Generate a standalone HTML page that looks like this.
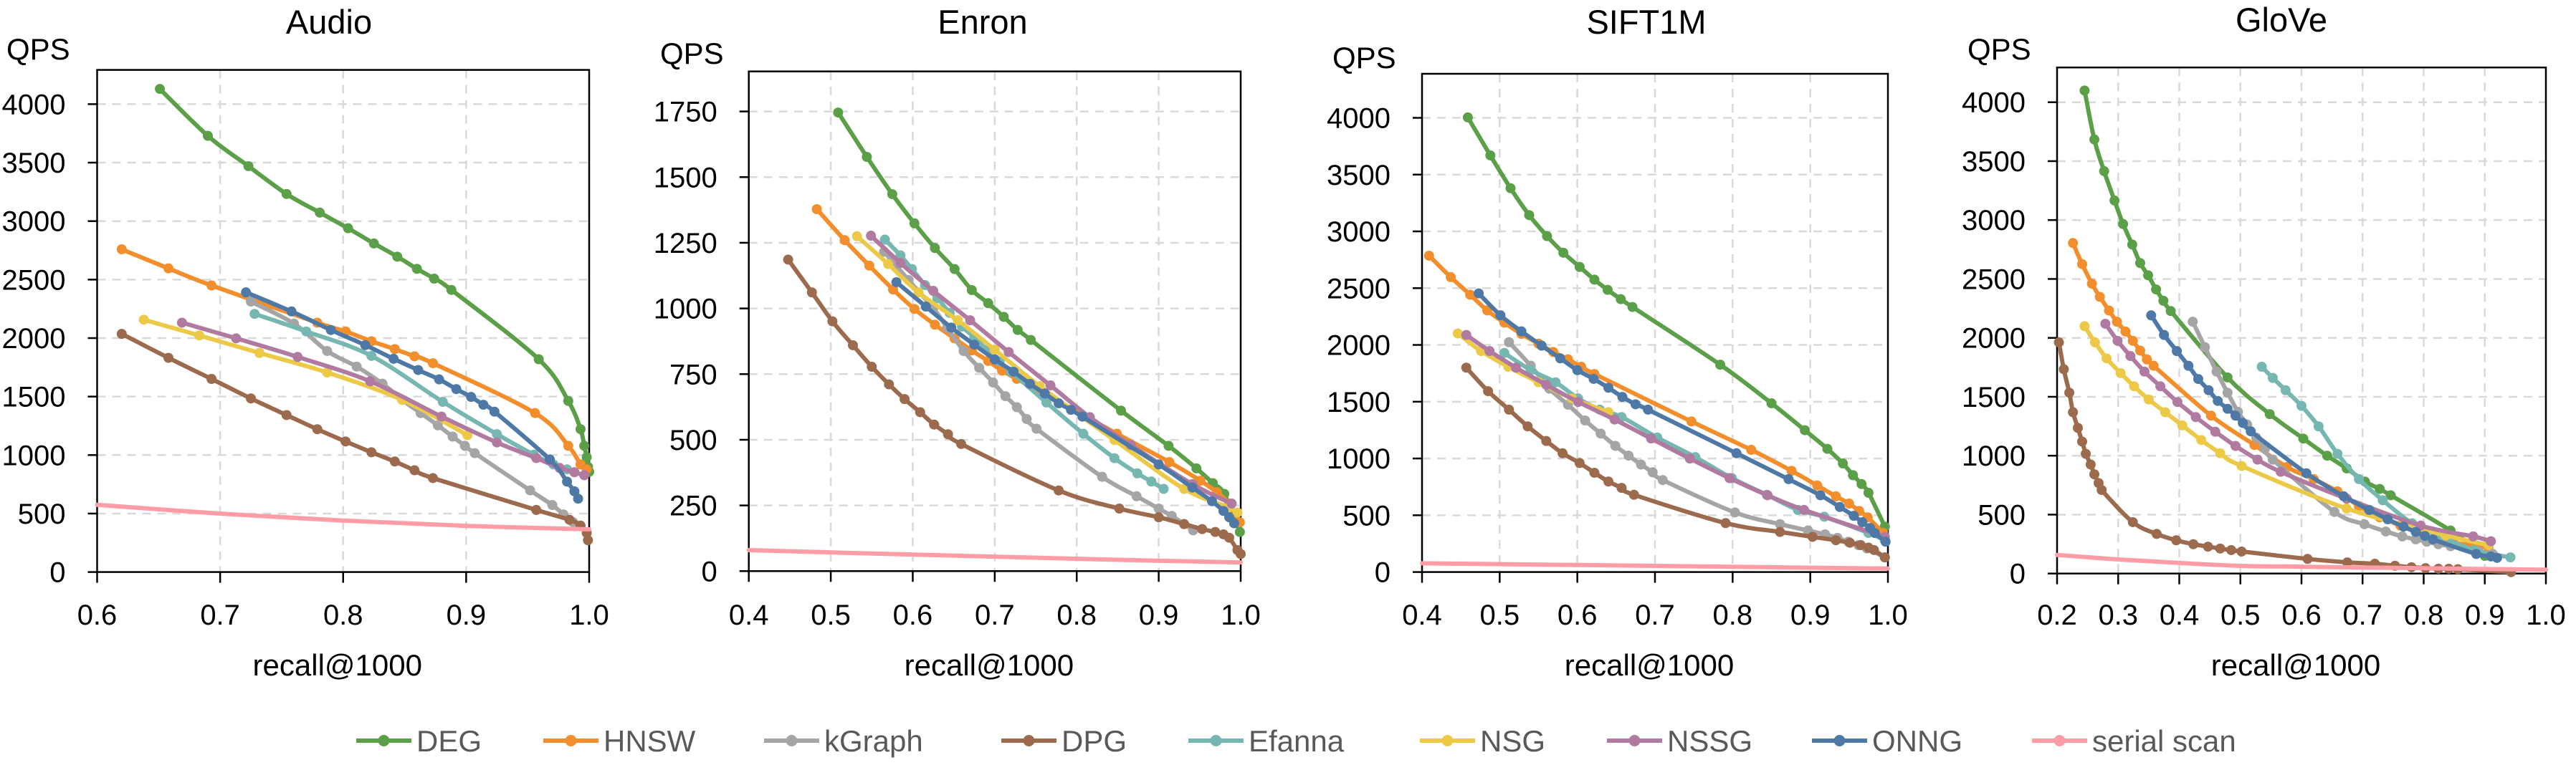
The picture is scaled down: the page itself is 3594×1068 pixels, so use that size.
<!DOCTYPE html>
<html><head><meta charset="utf-8"><style>
html,body{margin:0;padding:0;background:#fff;}
svg{display:block;font-family:"Liberation Sans",sans-serif;}
</style></head><body>
<svg id="chart" width="3594" height="1068" viewBox="0 0 3594 1068" xmlns="http://www.w3.org/2000/svg"></svg>
<script>
const seriesNames = ["DEG","HNSW","kGraph","DPG","Efanna","NSG","NSSG","ONNG","serial scan"];
const seriesColors = ["#5b9f48","#f28e2b","#a5a5a5","#9c6b4e","#76b7b2","#edc948","#b07aa1","#4e79a7","#ff9da7"];

// Audio
const audioDEG = [[0.651,4130],[0.690,3729],[0.723,3470],[0.754,3232],[0.781,3073],[0.804,2939],[0.825,2809],[0.844,2696],[0.860,2592],[0.874,2508],[0.888,2412],[0.959,1819],[0.983,1463],[0.993,1221],[0.996,1079],[0.998,982],[0.999,900],[1.0,857]];
const audioHNSW = [[0.620,2759],[0.658,2596],[0.693,2450],[0.779,2132],[0.802,2057],[0.823,1973],[0.842,1906],[0.858,1844],[0.873,1785],[0.956,1359],[0.983,1079],[0.993,920],[0.998,878]];
const audioKGraph = [[0.725,2312],[0.760,2124],[0.787,1890],[0.811,1756],[0.832,1610],[0.848,1472],[0.863,1359],[0.877,1254],[0.889,1158],[0.899,1079],[0.907,1016],[0.952,698],[0.970,573],[0.979,493],[0.987,426]];
const audioDPG = [[0.620,2036],[0.658,1831],[0.693,1651],[0.725,1484],[0.754,1342],[0.779,1221],[0.802,1116],[0.823,1024],[0.842,945],[0.858,870],[0.873,803],[0.957,531],[0.984,447],[0.993,397],[0.998,334],[0.999,272]];
const audioEfanna = [[0.728,2207],[0.770,2057],[0.823,1848],[0.881,1455],[0.925,1179],[0.955,1003],[0.971,920],[0.982,878]];
const audioNSG = [[0.638,2157],[0.683,2023],[0.732,1873],[0.787,1706],[0.848,1472],[0.901,1171]];
const audioNSSG = [[0.669,2132],[0.713,1998],[0.763,1839],[0.822,1630],[0.880,1329],[0.925,1108],[0.957,974],[0.976,890],[0.988,853],[0.996,828]];
const audioONNG = [[0.721,2391],[0.758,2228],[0.790,2069],[0.818,1940],[0.841,1823],[0.861,1727],[0.878,1647],[0.892,1564],[0.904,1497],[0.914,1430],[0.923,1371],[0.968,962],[0.982,773],[0.988,690],[0.991,627]];
const audioSerial = [[0.6,575],[0.7,500],[0.8,440],[0.9,395],[1.0,365]];

// Enron
const enronDEG = [[0.509,1746],[0.544,1577],[0.575,1435],[0.602,1324],[0.627,1230],[0.651,1150],[0.672,1070],[0.692,1020],[0.711,968],[0.728,918],[0.744,880],[0.854,611],[0.912,477],[0.946,391],[0.966,335],[0.980,294],[0.999,149]];
const enronHNSW = [[0.483,1378],[0.517,1260],[0.547,1163],[0.576,1072],[0.602,998],[0.627,938],[0.651,886],[0.672,840],[0.692,800],[0.709,763],[0.727,732],[0.849,523],[0.913,415],[0.951,344],[0.971,300],[0.986,257],[0.999,186]];
const enronKGraph = [[0.565,1216],[0.595,1108],[0.625,1001],[0.642,927],[0.662,838],[0.681,774],[0.698,718],[0.713,666],[0.727,624],[0.739,579],[0.751,542],[0.831,359],[0.873,285],[0.900,238],[0.916,210],[0.931,179],[0.942,155]];
const enronDPG = [[0.448,1186],[0.477,1061],[0.502,951],[0.527,860],[0.550,778],[0.571,711],[0.590,655],[0.609,605],[0.626,558],[0.643,521],[0.659,484],[0.778,307],[0.852,238],[0.900,205],[0.931,179],[0.953,160],[0.969,149],[0.979,140],[0.986,127],[0.996,80],[1.0,65]];
const enronEfanna = [[0.566,1262],[0.585,1202],[0.599,1150],[0.615,1089],[0.630,1039],[0.645,983],[0.660,931],[0.675,890],[0.690,843],[0.706,797],[0.720,759],[0.763,642],[0.808,523],[0.846,430],[0.874,372],[0.891,341],[0.906,313]];
const enronNSG = [[0.532,1275],[0.570,1169],[0.607,1061],[0.655,955],[0.700,843],[0.755,704],[0.846,499],[0.931,313],[0.986,242],[0.996,223]];
const enronNSSG = [[0.549,1277],[0.585,1173],[0.625,1067],[0.670,955],[0.717,834],[0.768,707],[0.816,586],[0.866,480],[0.941,331],[0.989,257]];
const enronONNG = [[0.580,1100],[0.616,1007],[0.647,927],[0.675,862],[0.700,806],[0.723,759],[0.743,713],[0.761,676],[0.778,639],[0.793,614],[0.807,588],[0.900,406],[0.941,318],[0.965,266],[0.979,229],[0.986,205],[0.992,182]];
const enronSerial = [[0.4,80],[0.55,67],[0.7,55],[0.85,43],[1.0,33]];

// SIFT1M
const siftDEG = [[0.459,4004],[0.488,3669],[0.514,3380],[0.538,3143],[0.561,2958],[0.582,2812],[0.603,2687],[0.622,2575],[0.639,2485],[0.656,2403],[0.671,2334],[0.784,1826],[0.850,1486],[0.893,1249],[0.922,1085],[0.942,956],[0.955,853],[0.966,775],[0.975,698],[0.996,400]];
const siftHNSW = [[0.409,2786],[0.437,2597],[0.462,2442],[0.484,2304],[0.506,2196],[0.528,2097],[0.550,2011],[0.569,1938],[0.588,1873],[0.605,1808],[0.622,1744],[0.747,1326],[0.824,1076],[0.876,891],[0.909,762],[0.933,667],[0.950,603],[0.963,538],[0.974,482],[0.994,344]];
const siftKGraph = [[0.512,2024],[0.540,1817],[0.564,1615],[0.588,1473],[0.610,1335],[0.630,1219],[0.649,1111],[0.666,1025],[0.682,947],[0.697,878],[0.710,810],[0.803,525],[0.861,422],[0.897,366],[0.919,332],[0.935,301],[0.949,267],[0.962,237],[0.973,207],[0.996,129]];
const siftDPG = [[0.457,1800],[0.485,1593],[0.512,1430],[0.536,1283],[0.560,1154],[0.581,1046],[0.603,960],[0.622,874],[0.640,797],[0.657,741],[0.673,680],[0.791,431],[0.861,353],[0.903,310],[0.933,280],[0.951,258],[0.965,237],[0.975,215],[0.982,194],[0.996,129]];
const siftEfanna = [[0.506,1929],[0.540,1778],[0.572,1671],[0.601,1529],[0.629,1430],[0.657,1365],[0.703,1184],[0.752,1012],[0.799,827],[0.844,680],[0.884,547],[0.918,487],[0.975,344],[0.996,280]];
const siftNSG = [[0.446,2101],[0.476,1946],[0.511,1808],[0.550,1671],[0.593,1529],[0.640,1408]];
const siftNSSG = [[0.457,2088],[0.487,1946],[0.521,1800],[0.560,1649],[0.601,1498],[0.648,1343],[0.695,1176],[0.745,999],[0.796,827],[0.845,676],[0.892,547],[0.996,310]];
const siftONNG = [[0.473,2454],[0.501,2261],[0.528,2119],[0.554,1994],[0.578,1882],[0.600,1778],[0.621,1701],[0.640,1623],[0.658,1542],[0.675,1477],[0.691,1430],[0.805,1046],[0.872,818],[0.913,676],[0.938,573],[0.956,495],[0.967,439],[0.977,388],[0.983,344],[0.997,267]];
const siftSerial = [[0.4,77],[0.6,62],[0.8,46],[1.0,30]];

// GloVe
const gloveDEG = [[0.245,4099],[0.261,3684],[0.277,3415],[0.294,3166],[0.308,2966],[0.323,2792],[0.336,2635],[0.349,2531],[0.362,2411],[0.374,2315],[0.386,2228],[0.479,1664],[0.548,1353],[0.603,1145],[0.642,1000],[0.674,892],[0.704,780],[0.728,718],[0.746,664],[0.844,365],[0.900,150]];
const gloveHNSW = [[0.226,2805],[0.241,2626],[0.257,2460],[0.270,2348],[0.285,2232],[0.298,2137],[0.312,2054],[0.324,1975],[0.336,1892],[0.347,1817],[0.358,1763],[0.452,1340],[0.523,1091],[0.576,904],[0.620,801],[0.659,697],[0.694,573],[0.728,477],[0.762,407],[0.791,344],[0.817,295],[0.849,261],[0.906,220]];
const gloveKGraph = [[0.422,2137],[0.442,1921],[0.461,1714],[0.479,1535],[0.496,1373],[0.511,1265],[0.526,1153],[0.540,1058],[0.553,967],[0.654,523],[0.703,419],[0.738,357],[0.765,315],[0.787,290],[0.805,270],[0.824,249],[0.844,232],[0.890,187],[0.913,166]];
const gloveDPG = [[0.203,1962],[0.211,1734],[0.220,1535],[0.226,1369],[0.234,1236],[0.241,1120],[0.247,1016],[0.255,925],[0.261,842],[0.268,768],[0.273,709],[0.324,436],[0.363,336],[0.395,282],[0.423,249],[0.447,228],[0.467,212],[0.485,199],[0.502,187],[0.610,124],[0.675,95],[0.720,83],[0.753,66],[0.780,54],[0.803,46],[0.824,41],[0.841,41],[0.856,37],[0.943,12]];
const gloveEfanna = [[0.535,1755],[0.553,1660],[0.574,1556],[0.600,1423],[0.628,1249],[0.659,1016],[0.694,801],[0.733,622],[0.781,427],[0.829,311],[0.883,199],[0.942,137]];
const gloveNSG = [[0.245,2099],[0.262,1962],[0.281,1826],[0.304,1701],[0.326,1589],[0.350,1477],[0.377,1369],[0.405,1257],[0.436,1133],[0.467,1021],[0.502,913],[0.674,552],[0.836,324],[0.906,241]];
const gloveNSSG = [[0.279,2120],[0.299,1975],[0.320,1846],[0.343,1714],[0.369,1589],[0.397,1456],[0.427,1328],[0.459,1203],[0.492,1083],[0.528,967],[0.566,863],[0.674,635],[0.795,407],[0.881,315],[0.910,274]];
const gloveONNG = [[0.354,2191],[0.375,2025],[0.396,1888],[0.415,1763],[0.431,1651],[0.448,1556],[0.463,1465],[0.479,1398],[0.492,1340],[0.504,1278],[0.517,1207],[0.608,851],[0.669,656],[0.711,539],[0.741,461],[0.767,398],[0.787,353],[0.802,319],[0.815,290],[0.886,166],[0.910,145],[0.920,133]];
const gloveSerial = [[0.2,158],[0.3,120],[0.4,90],[0.5,65],[0.6,58],[0.8,45],[1.0,32]];

const audioXTicks = ["0.6","0.7","0.8","0.9","1.0"];
const enronXTicks = ["0.4","0.5","0.6","0.7","0.8","0.9","1.0"];
const siftXTicks = ["0.4","0.5","0.6","0.7","0.8","0.9","1.0"];
const gloveXTicks = ["0.2","0.3","0.4","0.5","0.6","0.7","0.8","0.9","1.0"];
const audioYTicks = [0,500,1000,1500,2000,2500,3000,3500,4000];
const enronYTicks = [0,250,500,750,1000,1250,1500,1750];
const siftYTicks = [0,500,1000,1500,2000,2500,3000,3500,4000];
const gloveYTicks = [0,500,1000,1500,2000,2500,3000,3500,4000];

const panels = [
 {name:"audio",title:"Audio",L:135.5,R:822,T:97.6,B:798.6,refV:4000,refY:145.4,xmin:0.6,xmax:1.0,xt:audioXTicks,yt:audioYTicks,titleX:459,titleY:31,qpsX:9,qpsY:68,
  series:[audioDEG,audioHNSW,audioKGraph,audioDPG,audioEfanna,audioNSG,audioNSSG,audioONNG,audioSerial]},
 {name:"enron",title:"Enron",L:1044.7,R:1731,T:99.7,B:797.3,refV:1750,refY:155.6,xmin:0.4,xmax:1.0,xt:enronXTicks,yt:enronYTicks,titleX:1371,titleY:31,qpsX:921,qpsY:74,
  series:[enronDEG,enronHNSW,enronKGraph,enronDPG,enronEfanna,enronNSG,enronNSSG,enronONNG,enronSerial]},
 {name:"sift1m",title:"SIFT1M",L:1984,R:2634,T:103,B:798.6,refV:4000,refY:164.5,xmin:0.4,xmax:1.0,xt:siftXTicks,yt:siftYTicks,titleX:2297,titleY:31,qpsX:1859,qpsY:80,
  series:[siftDEG,siftHNSW,siftKGraph,siftDPG,siftEfanna,siftNSG,siftNSSG,siftONNG,siftSerial]},
 {name:"glove",title:"GloVe",L:2870,R:3552,T:94.2,B:800.7,refV:4000,refY:142.7,xmin:0.2,xmax:1.0,xt:gloveXTicks,yt:gloveYTicks,titleX:3183,titleY:28,qpsX:2745,qpsY:68,
  series:[gloveDEG,gloveHNSW,gloveKGraph,gloveDPG,gloveEfanna,gloveNSG,gloveNSSG,gloveONNG,gloveSerial]}
];

const NS="http://www.w3.org/2000/svg";
const svg=document.getElementById('chart');
function mk(tag,attrs,parent){const e=document.createElementNS(NS,tag);for(const k in attrs)e.setAttribute(k,attrs[k]);(parent||svg).appendChild(e);return e;}
function smoothPath(pts){
  if(pts.length<2)return "";
  let d="M"+pts[0][0].toFixed(1)+","+pts[0][1].toFixed(1);
  for(let i=0;i<pts.length-1;i++){
    const p0=pts[i-1]||pts[i],p1=pts[i],p2=pts[i+1],p3=pts[i+2]||p2;
    const t=1/6;
    const c1=[p1[0]+(p2[0]-p0[0])*t,p1[1]+(p2[1]-p0[1])*t];
    const c2=[p2[0]-(p3[0]-p1[0])*t,p2[1]-(p3[1]-p1[1])*t];
    d+=" C"+c1[0].toFixed(1)+","+c1[1].toFixed(1)+" "+c2[0].toFixed(1)+","+c2[1].toFixed(1)+" "+p2[0].toFixed(1)+","+p2[1].toFixed(1);
  }
  return d;
}

panels.forEach(p=>{
  const xS=v=>p.L+(v-p.xmin)/(p.xmax-p.xmin)*(p.R-p.L);
  const yS=v=>p.B-v*(p.B-p.refY)/p.refV;
  const g=mk('g',{});
  
  
  // gridlines
  p.yt.forEach(v=>{ if(v===0)return;
    const l=mk('line',{x1:p.L,x2:p.R,y1:yS(v),y2:yS(v),stroke:'#d9d9d9','stroke-width':2.5,'stroke-dasharray':'12,9'},g);
    
    
  });
  p.xt.forEach(t=>{const v=parseFloat(t); if(v===p.xmin||v===p.xmax)return;
    const l=mk('line',{x1:xS(v),x2:xS(v),y1:p.T,y2:p.B,stroke:'#d9d9d9','stroke-width':2.5,'stroke-dasharray':'12,9'},g);
    
    
  });
  // frame
  const fr=mk('rect',{x:p.L,y:p.T,width:p.R-p.L,height:p.B-p.T,fill:'none',stroke:'#000','stroke-width':2.5},g);
  
  
  // y ticks
  p.yt.forEach(v=>{
    mk('line',{x1:p.L-13,x2:p.L,y1:yS(v),y2:yS(v),stroke:'#000','stroke-width':2.5},g);
    const t=mk('text',{x:p.L-44,y:yS(v)+14,'text-anchor':'end','font-size':40,fill:'#000'},g);
    t.textContent=v;
    
    
  });
  p.xt.forEach(s=>{const v=parseFloat(s);
    mk('line',{x1:xS(v),x2:xS(v),y1:p.B,y2:p.B+15,stroke:'#000','stroke-width':2.5},g);
    const t=mk('text',{x:xS(v),y:872,'text-anchor':'middle','font-size':40,fill:'#000'},g);
    t.textContent=s;
    
    
  });
  const ti=mk('text',{x:p.titleX,y:p.titleY+16,'text-anchor':'middle','font-size':47,fill:'#000'},g);
  ti.textContent=p.title;
  
  
  const q=mk('text',{x:p.qpsX,y:p.qpsY+15,'font-size':42,fill:'#000'},g);
  q.textContent='QPS';
  
  
  const xl=mk('text',{x:(p.L+p.R)/2-8,y:943,'text-anchor':'middle','font-size':42,fill:'#000'},g);
  xl.textContent='recall@1000';
  
  
  // series
  p.series.forEach((s,i)=>{
    const pts=s.map(d=>[xS(d[0]),yS(d[1])]);
    const sg=mk('g',{},g);
    
    
    mk('path',{d:smoothPath(pts),fill:'none',stroke:seriesColors[i],'stroke-width':6,'stroke-linejoin':'round','stroke-linecap':'round'},sg);
    if(i<8){pts.forEach(pt=>{
      const c=mk('circle',{cx:pt[0],cy:pt[1],r:7,fill:seriesColors[i]},sg);
      
      
    });}
  });
});

// legend
const legendX=[497,758,1066,1397,1658,1981,2242,2528,2835];
const lg=mk('g',{});


seriesNames.forEach((n,i)=>{
  const e=mk('g',{},lg);
  
  
  const x=legendX[i];
  mk('line',{x1:x,x2:x+77,y1:1034,y2:1034,stroke:seriesColors[i],'stroke-width':6},e);
  mk('circle',{cx:x+38.5,cy:1034,r:8,fill:seriesColors[i]},e);
  const t=mk('text',{x:x+84,y:1049,'font-size':42,fill:'#595959'},e);
  t.textContent=n;
});
</script>
</body></html>
